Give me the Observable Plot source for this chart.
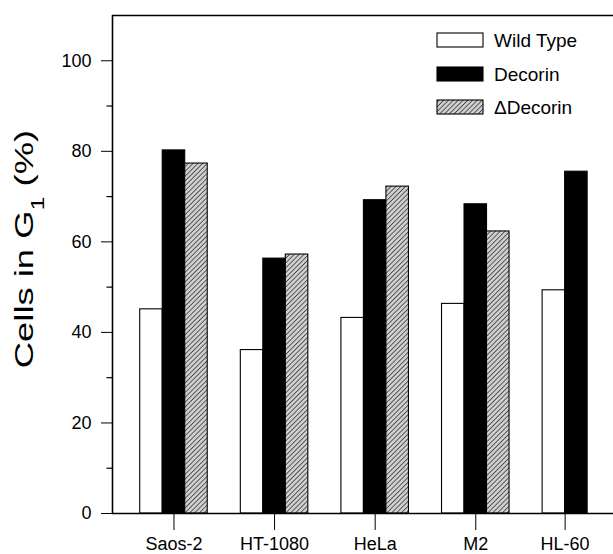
<!DOCTYPE html>
<html>
<head>
<meta charset="utf-8">
<script src="https://cdn.jsdelivr.net/npm/d3@7"></script>
<script src="https://cdn.jsdelivr.net/npm/@observablehq/plot@0.6"></script>
<style>
  html, body { margin: 0; padding: 0; background: white; }
  #chart { width: 613px; height: 554px; }
</style>
</head>
<body>
<div id="chart"></div>
<script>
// ---- data ----
const cells = ["Saos-2", "HT-1080", "HeLa", "M2", "HL-60"];
const series = ["Wild Type", "Decorin", "\u0394Decorin"];
const wildType = [45.1, 36.1, 43.2, 46.3, 49.3];
const decorin = [80.2, 56.3, 69.2, 68.3, 75.5];
const deltaDecorin = [77.3, 57.2, 72.2, 62.3, null];
const yMajorTicks = [0, 20, 40, 60, 80, 100];
const yMinorTicks = [10, 30, 50, 70, 90];

// ---- layout ----
const W = 613, H = 554;
const mLeft = 112, mRight = 0, mTop = 15, mBottom = 41;
const barW = 0.2237;            // bar width in "group" units
const xDomain = [-0.611, 4.369]; // group index space
const yDomain = [0, 110];

const seriesValues = [wildType, decorin, deltaDecorin];
const rows = [];
cells.forEach((c, gi) => {
  seriesValues.forEach((vals, si) => {
    const v = vals[gi];
    if (v == null) return;
    const x1 = gi + (si - 1.5) * barW;
    rows.push({cell: c, series: series[si], value: v, x1, x2: x1 + barW});
  });
});
// tick at centre of the bars present in each group
const tickPos = cells.map(c => {
  const r = rows.filter(d => d.cell === c);
  return (d3.min(r, d => d.x1) + d3.max(r, d => d.x2)) / 2;
});
const tickLabel = new Map(tickPos.map((p, i) => [p, cells[i]]));

const pxPerUnitX = (W - mLeft - mRight) / (xDomain[1] - xDomain[0]);
const minorLen = 6 / pxPerUnitX;

const chart = Plot.plot({
  width: W,
  height: H,
  marginLeft: mLeft,
  marginRight: mRight,
  marginTop: mTop,
  marginBottom: mBottom,
  style: {fontFamily: "'Liberation Sans', Arial, Helvetica, sans-serif", fontSize: "18px", background: "white", color: "black"},
  x: {
    type: "linear",
    domain: xDomain,
    ticks: tickPos,
    tickFormat: d => tickLabel.get(d) ?? "",
    tickSize: 17,
    tickPadding: 7,
    label: null
  },
  y: {
    domain: yDomain,
    ticks: yMajorTicks,
    tickSize: 11,
    tickPadding: 10,
    label: null
  },
  color: {type: "ordinal", domain: series, range: ["white", "black", "url(#hatch)"]},
  marks: [
    Plot.rect(rows, {x1: "x1", x2: "x2", y1: 0, y2: "value", fill: "series", stroke: "black", strokeWidth: 1.1}),
    Plot.link(yMinorTicks, {x1: xDomain[0] - minorLen, x2: xDomain[0], y1: d => d, y2: d => d, stroke: "black", strokeWidth: 1.2}),
    Plot.ruleX([xDomain[0]], {stroke: "black", strokeWidth: 1.6}),
    Plot.ruleY([0], {stroke: "black", strokeWidth: 1.6}),
    Plot.ruleY([yDomain[1]], {stroke: "black", strokeWidth: 1.6})
  ]
});

const svg = d3.select(chart.tagName.toLowerCase() === "svg" ? chart : chart.querySelector("svg"));
// hatch pattern
const defs = svg.insert("defs", ":first-child");
const pat = defs.append("pattern")
  .attr("id", "hatch").attr("patternUnits", "userSpaceOnUse")
  .attr("width", 3.4).attr("height", 3.4)
  .attr("patternTransform", "rotate(45)");
pat.append("rect").attr("width", 3.4).attr("height", 3.4).attr("fill", "#cfcfcf");
pat.append("line").attr("x1", 0).attr("y1", 0).attr("x2", 0).attr("y2", 3.4)
  .attr("stroke", "#1a1a1a").attr("stroke-width", 1.3);

// y-axis title with subscript (stretched along its length like the reference)
const title = svg.append("text")
  .attr("transform", `translate(33, 249) rotate(-90) scale(1.4, 1)`)
  .attr("text-anchor", "middle")
  .attr("font-size", 26)
  .attr("font-family", "'Liberation Sans', Arial, Helvetica, sans-serif")
  .attr("fill", "black");
title.append("tspan").text("Cells in G");
title.append("tspan").attr("baseline-shift", "sub").attr("font-size", 18).text("1");
title.append("tspan").text(" (%)");

// legend
const legend = svg.append("g")
  .attr("font-family", "'Liberation Sans', Arial, Helvetica, sans-serif")
  .attr("font-size", 19)
  .attr("text-anchor", "start");
const legendY = [40, 74, 107];
series.forEach((s, i) => {
  legend.append("rect")
    .attr("x", 437).attr("y", legendY[i] - 7)
    .attr("width", 46).attr("height", 14)
    .attr("fill", ["white", "black", "url(#hatch)"][i])
    .attr("stroke", "black").attr("stroke-width", 1.1);
  legend.append("text")
    .attr("x", 494).attr("y", legendY[i] + 7)
    .attr("text-anchor", "start")
    .attr("fill", "black")
    .text(s);
});

document.getElementById("chart").appendChild(chart);
</script>
</body>
</html>
